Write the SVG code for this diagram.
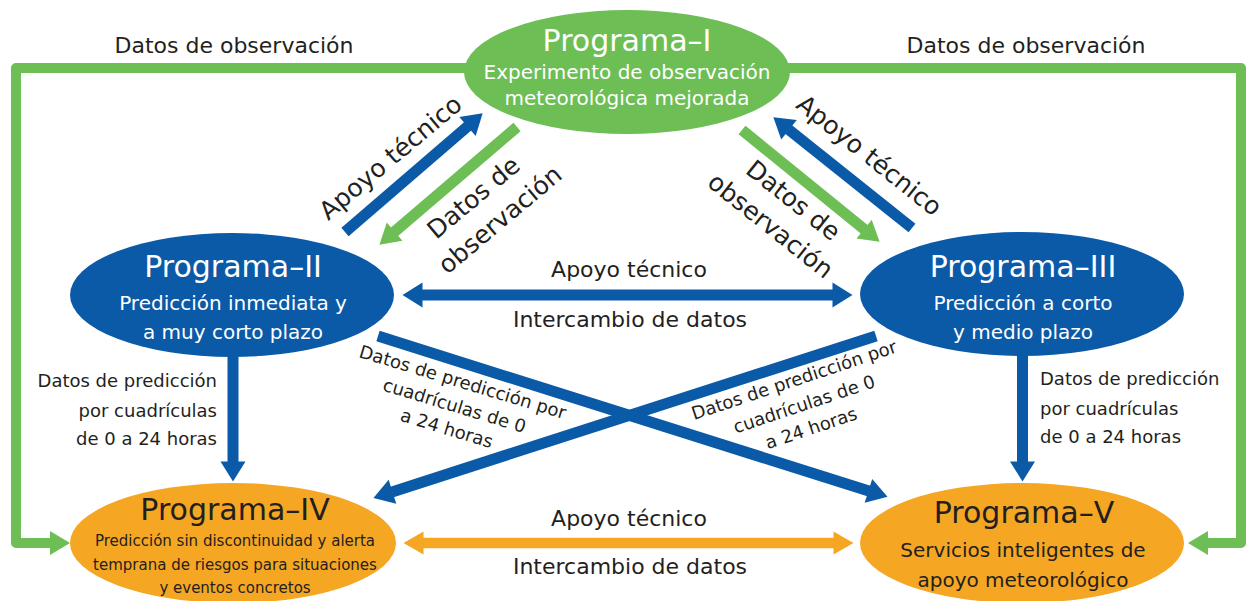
<svg xmlns="http://www.w3.org/2000/svg" width="1248" height="601" viewBox="0 0 1248 601">
<style>
text{font-family:"DejaVu Sans",sans-serif;text-anchor:middle;fill:#231f20}
.tw{fill:#fff;font-size:30px}
.sw{fill:#fff;font-size:20px}
.td{font-size:30px}
.sd{font-size:20px}
.sc{font-size:15px}
.lb{font-size:22px}
.dg{font-size:25px}
.sm{font-size:18px}
.st{text-anchor:start}
.en{text-anchor:end}
.blue{stroke:#0a5aa7;fill:none;stroke-width:11}
.green{stroke:#6cbe55;fill:none;stroke-width:11}
.gp{stroke:#6cbe55;fill:none;stroke-width:10;stroke-linejoin:round}
.orange{stroke:#f5a623;fill:none;stroke-width:10.5}
</style>
<defs>
<marker id="mb" markerUnits="userSpaceOnUse" markerWidth="22" markerHeight="26" refX="0.5" refY="12.5" orient="auto-start-reverse" overflow="visible"><path d="M0,0 L20,12.5 L0,25 z" fill="#0a5aa7"/></marker>
<marker id="mg" markerUnits="userSpaceOnUse" markerWidth="22" markerHeight="26" refX="0.5" refY="12.5" orient="auto-start-reverse" overflow="visible"><path d="M0,0.5 L20,12.5 L0,24.5 z" fill="#6cbe55"/></marker>
<marker id="mo" markerUnits="userSpaceOnUse" markerWidth="22" markerHeight="26" refX="0.5" refY="12.5" orient="auto-start-reverse" overflow="visible"><path d="M0,1 L20,12.5 L0,24 z" fill="#f5a623"/></marker>
</defs>

<g id="connectors">
<path class="gp" d="M470,68 H16 V543 H50.5" marker-end="url(#mg)"/>
<path class="gp" d="M785,68 H1241 V543 H1207.5" marker-end="url(#mg)"/>
<line class="blue" x1="345" y1="232" x2="467.9" y2="126.1" marker-end="url(#mb)"/>
<line class="green" x1="517" y1="127" x2="394.2" y2="232" marker-end="url(#mg)"/>
<line class="green" x1="742" y1="130" x2="864.5" y2="229.4" marker-end="url(#mg)"/>
<line class="blue" x1="912" y1="228" x2="788.6" y2="129.5" marker-end="url(#mb)"/>
<line class="blue" x1="422" y1="295" x2="833" y2="295" stroke-width="10.5" marker-start="url(#mb)" marker-end="url(#mb)"/>
<line class="blue" x1="378" y1="336" x2="868.9" y2="491" marker-end="url(#mb)"/>
<line class="blue" x1="876" y1="336" x2="392" y2="491.9" marker-end="url(#mb)"/>
<line class="blue" x1="233" y1="350" x2="233" y2="462" marker-end="url(#mb)"/>
<line class="blue" x1="1022.5" y1="350" x2="1022.5" y2="462" marker-end="url(#mb)"/>
<line class="orange" x1="423" y1="543" x2="834" y2="543" marker-start="url(#mo)" marker-end="url(#mo)"/>
</g>

<g id="node-I">
<ellipse cx="627" cy="72" rx="163" ry="62" fill="#6cbe55"/>
<text class="tw" x="627" y="51">Programa–I</text>
<text class="sw" x="627" y="79">Experimento de observación</text>
<text class="sw" x="627" y="105">meteorológica mejorada</text>
</g>
<g id="node-II">
<ellipse cx="232" cy="295" rx="162" ry="62" fill="#0a5aa7"/>
<text class="tw" x="233" y="277">Programa–II</text>
<text class="sw" x="233" y="310">Predicción inmediata y</text>
<text class="sw" x="233" y="339">a muy corto plazo</text>
</g>
<g id="node-III">
<ellipse cx="1022" cy="294" rx="162" ry="62" fill="#0a5aa7"/>
<text class="tw" x="1023" y="277">Programa–III</text>
<text class="sw" x="1023" y="310">Predicción a corto</text>
<text class="sw" x="1023" y="339">y medio plazo</text>
</g>
<g id="node-IV">
<ellipse cx="233" cy="543" rx="163" ry="60" fill="#f5a623"/>
<text class="td" x="235" y="520">Programa–IV</text>
<text class="sc" x="235" y="546">Predicción sin discontinuidad y alerta</text>
<text class="sc" x="235" y="570">temprana de riesgos para situaciones</text>
<text class="sc" x="235" y="593">y eventos concretos</text>
</g>
<g id="node-V">
<ellipse cx="1022" cy="543" rx="162" ry="60" fill="#f5a623"/>
<text class="td" x="1024" y="523">Programa–V</text>
<text class="sd" x="1023" y="557">Servicios inteligentes de</text>
<text class="sd" x="1023" y="587">apoyo meteorológico</text>
</g>

<g id="labels">
<text class="lb" x="234" y="53">Datos de observación</text>
<text class="lb" x="1026" y="53">Datos de observación</text>
<text class="dg" transform="translate(396,164) rotate(-40)">Apoyo técnico</text>
<g transform="translate(479,204) rotate(-40)">
<text class="dg" x="0" y="0">Datos de</text>
<text class="dg" x="6" y="34">observación</text>
</g>
<text class="dg" transform="translate(864,162) rotate(38.5)">Apoyo técnico</text>
<g transform="translate(788,207) rotate(38.5)">
<text class="dg" x="0" y="0">Datos de</text>
<text class="dg" x="-2" y="34">observación</text>
</g>
<text class="lb" x="629" y="277">Apoyo técnico</text>
<text class="lb" x="630" y="327">Intercambio de datos</text>
<text class="lb" x="629" y="526">Apoyo técnico</text>
<text class="lb" x="630" y="574">Intercambio de datos</text>
<text class="sm en" x="217" y="387">Datos de predicción</text>
<text class="sm en" x="217" y="417">por cuadrículas</text>
<text class="sm en" x="217" y="445">de 0 a 24 horas</text>
<text class="sm st" x="1040" y="385">Datos de predicción</text>
<text class="sm st" x="1040" y="415">por cuadrículas</text>
<text class="sm st" x="1040" y="443">de 0 a 24 horas</text>
<g transform="translate(461,388) rotate(16.8)">
<text class="sm" x="0" y="0">Datos de predicción por</text>
<text class="sm" x="-1" y="25">cuadrículas de 0</text>
<text class="sm" x="-2" y="49">a 24 horas</text>
</g>
<g transform="translate(796,386) rotate(-18.5)">
<text class="sm" x="0" y="0">Datos de predicción por</text>
<text class="sm" x="2" y="26">cuadrículas de 0</text>
<text class="sm" x="1" y="51">a 24 horas</text>
</g>
</g>
</svg>
